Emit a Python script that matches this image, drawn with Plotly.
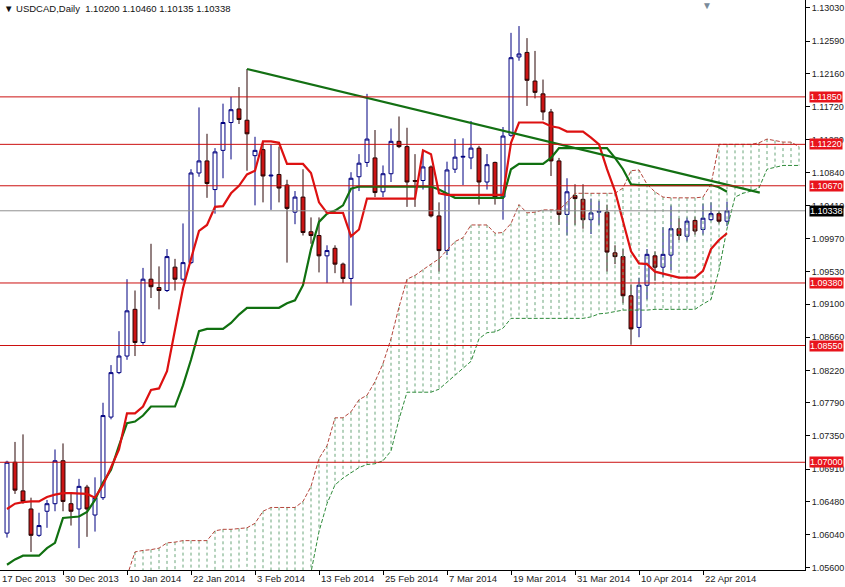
import plotly.graph_objects as go

opens  = [1.0606,1.0700,1.0662,1.0638,1.0603,1.0635,1.0645,1.0702,1.0645,1.0638,1.0667,1.0630,1.0653,1.0760,1.0819,1.0841,1.0903,1.0859,1.0943,1.0932,
          1.0928,1.0959,1.0943,1.0965,1.1084,1.1100,1.1062,1.1114,1.1151,1.1169,1.1154,1.1107,1.1115,1.1080,1.1082,1.1068,1.1032,1.1052,1.1006,1.1001,
          1.0974,1.0984,1.0963,1.0944,1.1079,1.1098,1.1104,1.1059,1.1083,1.1126,1.1119,1.1074,1.1074,1.1092,1.1027,1.0981,1.1089,1.1105,1.1104,1.1117,
          1.1072,1.1098,1.1052,1.1134,1.1238,1.1244,1.1206,1.1189,1.1165,1.1100,1.1029,1.1054,1.1049,1.1022,1.1032,1.1032,1.0978,1.0973,1.0921,1.0879,
          1.0935,1.0974,1.0959,1.0975,1.1010,1.1000,1.1021,1.1009,1.1022,1.1030,1.10200]
highs  = [1.0702,1.0727,1.0737,1.0653,1.0633,1.0650,1.0717,1.0725,1.0658,1.0678,1.0670,1.0680,1.0779,1.0829,1.0874,1.0943,1.0928,1.0958,1.0990,1.0960,
          1.0983,1.0970,1.1017,1.1089,1.1171,1.1136,1.1117,1.1176,1.1185,1.1198,1.1222,1.1132,1.1126,1.1122,1.1119,1.1075,1.1060,1.1089,1.1025,1.1025,
          1.0988,1.0988,1.0965,1.1085,1.1109,1.1189,1.1141,1.1094,1.1143,1.1159,1.1144,1.1109,1.1114,1.1094,1.1045,1.1099,1.1129,1.1130,1.1153,1.1120,
          1.1109,1.1099,1.1145,1.1270,1.1279,1.1263,1.1246,1.1208,1.1169,1.1104,1.1077,1.1069,1.1069,1.1050,1.1047,1.1042,1.0988,1.0983,1.0936,1.0945,
          1.0983,1.0980,1.1012,1.1041,1.1024,1.1025,1.1026,1.1043,1.1045,1.1033,1.10460]
lows   = [1.0600,1.0658,1.0645,1.0581,1.0601,1.0613,1.0635,1.0635,1.0616,1.0586,1.0601,1.0608,1.0650,1.0757,1.0817,1.0836,1.0841,1.0856,1.0918,1.0903,
          1.0926,1.0928,1.0940,1.0963,1.1079,1.1051,1.1030,1.1077,1.1102,1.1149,1.1087,1.1041,1.1045,1.1035,1.1045,1.0965,1.1016,1.1001,1.0990,1.0952,
          1.0938,1.0951,1.0938,1.0908,1.1060,1.1092,1.1052,1.1052,1.1072,1.1117,1.1039,1.1039,1.1062,1.1025,1.0953,1.0975,1.1084,1.1068,1.1089,1.1042,
          1.1062,1.1042,1.1022,1.1132,1.1233,1.1173,1.1183,1.1154,1.1080,1.1015,1.1001,1.1015,1.1010,1.1003,1.1015,1.0953,1.0963,1.0911,1.0856,1.0866,
          1.0916,1.0941,1.0946,1.0955,1.0995,1.0993,1.1002,1.1002,1.1020,1.1017,1.10135]
closes = [1.0700,1.0663,1.0648,1.0603,1.0616,1.0645,1.0702,1.0648,1.0635,1.0668,1.0638,1.0653,1.0762,1.0819,1.0841,1.0901,1.0859,1.0943,1.0933,1.0928,
          1.0973,1.0943,1.0965,1.1084,1.1100,1.1070,1.1112,1.1151,1.1168,1.1155,1.1136,1.1114,1.1080,1.1081,1.1064,1.1037,1.1052,1.1005,1.1001,1.0974,
          1.0981,1.0963,1.0944,1.1077,1.1097,1.1129,1.1058,1.1083,1.1126,1.1119,1.1072,1.1073,1.1092,1.1027,1.0981,1.1088,1.1105,1.1106,1.1117,1.1072,
          1.1095,1.1052,1.1133,1.1237,1.1242,1.1207,1.1191,1.1165,1.1100,1.1029,1.1059,1.1050,1.1022,1.1031,1.1033,1.0979,1.0973,1.0921,1.0877,1.0935,
          1.0976,1.0959,1.0976,1.1010,1.1001,1.1020,1.1007,1.1024,1.1030,1.1020,1.10338]

tenkan = [1.0638,1.0645,1.0647,1.0648,1.0648,1.0654,1.0657,1.0659,1.0659,1.0659,1.0658,1.0653,1.0670,1.0693,1.0717,1.0765,1.0765,1.0774,1.0796,1.0798,
          1.0821,1.0876,1.0931,1.0970,1.1007,1.1015,1.1039,1.1040,1.1057,1.1067,1.1082,1.1087,1.1126,1.1126,1.1124,1.1096,1.1096,1.1096,1.1084,1.1045,
          1.1031,1.1031,1.1031,1.1000,1.1009,1.1050,1.1050,1.1050,1.1050,1.1050,1.1050,1.1050,1.1114,1.1109,1.1057,1.1055,1.1055,1.1055,1.1055,1.1055,
          1.1055,1.1055,1.1055,1.1124,1.1151,1.1151,1.1151,1.1151,1.1146,1.1144,1.1139,1.1139,1.1139,1.1131,1.1122,1.1089,1.1060,1.1020,1.0980,1.0964,
          1.0963,1.0953,1.0950,1.0948,1.0945,1.0945,1.0945,1.0954,1.0983,1.0995,1.1004]
kijun  = [1.0564,1.0571,1.0576,1.0576,1.0576,1.0586,1.0593,1.0626,1.0627,1.0628,1.0634,1.0650,1.0673,1.0690,1.0722,1.0752,1.0754,1.0762,1.0774,1.0774,
          1.0774,1.0774,1.0802,1.0836,1.0874,1.0877,1.0877,1.0877,1.0885,1.0896,1.0905,1.0905,1.0905,1.0905,1.0905,1.0911,1.0915,1.0935,1.0983,1.1019,
          1.1030,1.1034,1.1041,1.1063,1.1066,1.1066,1.1066,1.1066,1.1066,1.1066,1.1066,1.1066,1.1066,1.1066,1.1062,1.1057,1.1051,1.1051,1.1051,1.1051,
          1.1051,1.1051,1.1051,1.1089,1.1096,1.1096,1.1096,1.1096,1.1104,1.1117,1.1117,1.1117,1.1117,1.1117,1.1117,1.1117,1.1104,1.1089,1.1069,1.1068,
          1.1068,1.1068,1.1068,1.1068,1.1068,1.1068,1.1068,1.1068,1.1068,1.1065,1.1059]

span_start = 15
span_a = [1.0549,1.0581,1.0583,1.0584,1.0586,1.0593,1.0594,1.0596,1.0596,1.0596,1.0596,1.0609,1.0611,1.0611,1.0612,1.0613,1.0619,1.0635,1.0640,
          1.0640,1.0640,1.0640,1.0648,1.0668,1.0705,1.0722,1.0759,1.0759,1.0767,1.0783,1.0789,1.0807,1.0831,1.0864,1.0906,1.0943,1.0948,1.0956,1.0963,
          1.0970,1.0981,1.0993,1.0998,1.1015,1.1015,1.1015,1.1004,1.1005,1.1017,1.1042,1.1031,1.1032,1.1035,1.1035,1.1035,1.1045,1.1057,1.1057,1.1057,
          1.1057,1.1057,1.1057,1.1064,1.1087,1.1088,1.1069,1.1059,1.1052,1.1051,1.1051,1.1051,1.1051,1.1052,1.1069,1.1122,1.1122,1.1122,1.1122,1.1122,
          1.1124,1.1129,1.1127,1.1125,1.1125,1.1119]
span_b = [1.0500,1.0500,1.0500,1.0500,1.0500,1.0500,1.0500,1.0500,1.0500,1.0500,1.0500,1.0500,1.0500,1.0500,1.0500,1.0500,1.0500,1.0500,1.0500,
          1.0500,1.0500,1.0525,1.0539,1.0554,1.0608,1.0645,1.0670,1.0679,1.0686,1.0693,1.0697,1.0698,1.0702,1.0715,1.0757,1.0793,1.0793,1.0793,1.0793,
          1.0797,1.0806,1.0816,1.0824,1.0834,1.0864,1.0872,1.0873,1.0878,1.0891,1.0891,1.0891,1.0891,1.0891,1.0891,1.0891,1.0891,1.0891,1.0891,1.0893,
          1.0897,1.0898,1.0900,1.0902,1.0902,1.0902,1.0902,1.0903,1.0903,1.0903,1.0903,1.0903,1.0903,1.0910,1.0916,1.0955,1.1010,1.1052,1.1057,1.1060,
          1.1064,1.1089,1.1092,1.1094,1.1094,1.1094]

level_lines = [1.1185, 1.1122, 1.1067, 1.0938, 1.0855, 1.0700]
level_labels = ["1.11850", "1.11220", "1.10670", "1.09380", "1.08550", "1.07000"]
last_price = 1.10338
trend_start = (30, 1.1222)
trend_end = (94.1, 1.1058)
axis_ticks = [1.13030,1.12590,1.12160,1.11720,1.11280,1.10840,1.10410,1.09970,1.09530,1.09100,1.08660,1.08220,1.07790,1.07350,1.06910,1.06480,1.06040,1.05600]
date_pos = [-0.875, 7, 15, 23, 31, 39, 47, 55, 63, 71, 79, 87]
date_labels = ["17 Dec 2013","30 Dec 2013","10 Jan 2014","22 Jan 2014","3 Feb 2014","13 Feb 2014",
               "25 Feb 2014","7 Mar 2014","19 Mar 2014","31 Mar 2014","10 Apr 2014","22 Apr 2014"]

FONT = "Liberation Sans"
n = len(closes)
xs = list(range(n))
span_x = list(range(span_start, span_start + len(span_a)))

fig = go.Figure()
hx, hy = [], []
for x, a, b in zip(span_x, span_a, span_b):
    hx += [x, x, None]; hy += [a, b, None]
fig.add_trace(go.Scatter(x=hx, y=hy, mode="lines", line=dict(color="#6aa57a", width=1, dash="3px,3px"), hoverinfo="skip"))
fig.add_trace(go.Scatter(x=span_x, y=span_a, mode="lines", line=dict(color="#b4463c", width=1, dash="4px,2px"), hoverinfo="skip"))
fig.add_trace(go.Scatter(x=span_x, y=span_b, mode="lines", line=dict(color="#2e8b3a", width=1, dash="4px,2px"), hoverinfo="skip"))

for lv in level_lines:
    fig.add_shape(type="line", xref="paper", x0=0, x1=1, y0=lv, y1=lv, line=dict(color="#cc1010", width=1))
fig.add_shape(type="line", xref="paper", x0=0, x1=1, y0=last_price, y1=last_price, line=dict(color="#909090", width=1))

fig.add_trace(go.Candlestick(x=xs, open=opens, high=highs, low=lows, close=closes,
    increasing=dict(line=dict(color="#000080", width=1), fillcolor="white"),
    decreasing=dict(line=dict(color="#2a0505", width=1), fillcolor="#cc1414"),
    whiskerwidth=0, hoverinfo="skip"))
fig.add_trace(go.Scatter(x=xs, y=kijun, mode="lines", line=dict(color="#107010", width=2.2), hoverinfo="skip"))
fig.add_trace(go.Scatter(x=xs, y=tenkan, mode="lines", line=dict(color="#dd1111", width=2.2), hoverinfo="skip"))
fig.add_trace(go.Scatter(x=[trend_start[0], trend_end[0]], y=[trend_start[1], trend_end[1]], mode="lines",
                         line=dict(color="#137013", width=2.2), hoverinfo="skip"))

ann = []
for p, t in zip(date_pos, date_labels):
    ann.append(dict(x=p, y=0, yref="paper", yanchor="top", xanchor="left", text=t, showarrow=False,
                    font=dict(size=9.5, color="#222", family=FONT), xshift=0, yshift=-1))
for lv, t in zip(level_lines, level_labels):
    ann.append(dict(x=1, xref="paper", y=lv, xanchor="left", text=t, showarrow=False, bgcolor="#e8141c",
                    font=dict(size=9, color="white", family=FONT), borderpad=0, xshift=4))
ann.append(dict(x=1, xref="paper", y=last_price, xanchor="left", text="1.10338", showarrow=False, bgcolor="black",
                font=dict(size=9, color="white", family=FONT), borderpad=0, xshift=4))
ann.append(dict(x=0, xref="paper", y=1, yref="paper", xanchor="left", yanchor="top", showarrow=False,
                text="▼ USDCAD,Daily  1.10200 1.10460 1.10135 1.10338", font=dict(size=9.5, color="#111", family=FONT), xshift=2, yshift=-1))
ann.append(dict(x=87.5, y=1, yref="paper", yanchor="top", showarrow=False, text="▼",
                font=dict(size=10, color="#7a8a9a", family=FONT), yshift=2))

fig.update_layout(width=845, height=587, margin=dict(l=0, r=40, t=0, b=17), plot_bgcolor="white", paper_bgcolor="white",
                  showlegend=False, annotations=ann,
                  xaxis=dict(range=[-0.875, 99.75], rangeslider=dict(visible=False), showgrid=False, zeroline=False,
                             tickvals=date_pos[1:], ticktext=[""] * (len(date_pos) - 1), ticks="outside", ticklen=4, tickcolor="black",
                             showline=True, linecolor="black"),
                  yaxis=dict(range=[1.0557, 1.13136], side="right", showgrid=False, zeroline=False, tickvals=axis_ticks,
                             ticktext=[f"{v:.5f}" for v in axis_ticks], ticks="outside", ticklen=4, tickcolor="black",
                             showline=True, linecolor="black", tickfont=dict(size=9, color="#222", family=FONT)))
fig.write_html("out.html", config={"displayModeBar": False},
               post_script="document.body.style.margin='0';document.body.style.overflow='hidden';")
